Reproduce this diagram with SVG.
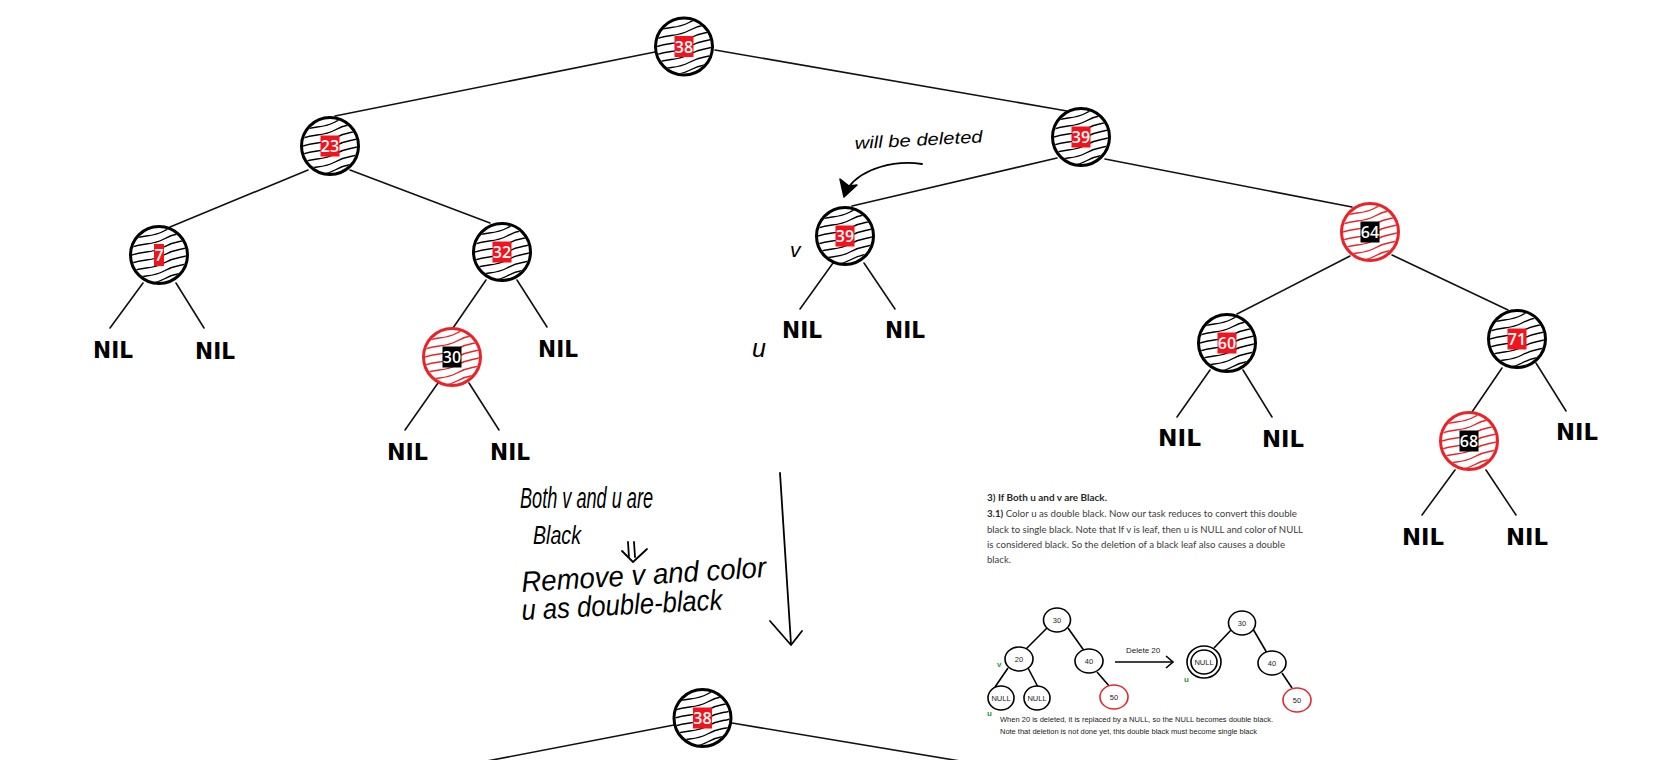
<svg xmlns="http://www.w3.org/2000/svg" xmlns:xlink="http://www.w3.org/1999/xlink" width="1661" height="760" viewBox="0 0 1661 760">
<style>
.nk{fill:none;stroke:#000;stroke-width:3}
.nr{fill:none;stroke:#ec2227;stroke-width:3}
.lr{fill:#f2131d}
.lb{fill:#000}
.lt{font-family:"Open Sans","DejaVu Sans",sans-serif;font-weight:600;font-size:16px;fill:#fff;text-anchor:middle}
.edge{stroke:#111;stroke-width:1.6;fill:none;stroke-linecap:round}
.nil{font-family:"DejaVu Sans",sans-serif;font-weight:bold;font-size:23px;fill:#000}
.hand{font-family:"Liberation Sans","DejaVu Sans",sans-serif;font-style:italic;fill:#000}
.pen{stroke:#000;stroke-width:1.8;fill:none;stroke-linecap:round;stroke-linejoin:round}
.doc{font-family:Lato,"Open Sans",sans-serif;font-size:9px;fill:#3d3d3d}
.docb{font-weight:bold;fill:#2a2a2a}
.mini{stroke:#000;stroke-width:1.6;fill:#fff}
.minir{stroke:#e8262b;stroke-width:1.6;fill:#fff}
.ml{font-family:"Liberation Sans",Arial,sans-serif;font-size:7.5px;fill:#222;text-anchor:middle}
.cap{font-family:"Liberation Sans",Arial,sans-serif;font-size:8px;fill:#222}
.grn{font-family:"Liberation Sans",Arial,sans-serif;font-size:8px;font-weight:bold;fill:#2e9a3a}
</style>
<defs>
<clipPath id="clipN"><circle r="27"/></clipPath>
<g id="hatch" clip-path="url(#clipN)" fill="none" stroke="currentColor" stroke-width="1.4" stroke-linecap="round">
<path d="M-30 -23 C-15 -29,-8 -25,5 -32 S20 -36,30 -40"/>
<path d="M-30 -15 C-15 -21,-8 -17,5 -24 S20 -28,30 -32"/>
<path d="M-30 -7 C-15 -13,-8 -9,5 -16 S20 -20,30 -24"/>
<path d="M-30 1 C-15 -5,-8 -1,5 -8 S20 -12,30 -16"/>
<path d="M-30 9 C-15 3,-8 7,5 0 S20 -4,30 -8"/>
<path d="M-30 17 C-15 11,-8 15,5 8 S20 4,30 0"/>
<path d="M-30 25 C-15 19,-8 23,5 16 S20 12,30 8"/>
<path d="M-30 33 C-15 27,-8 31,5 24 S20 20,30 16"/>
<path d="M-30 41 C-15 35,-8 39,5 32 S20 28,30 24"/>
</g>
</defs>
<rect width="1661" height="760" fill="#fff"/>

<g id="connectors">
<line class="edge" x1="655" y1="52" x2="335" y2="116"/>
<line class="edge" x1="715" y1="50" x2="1067" y2="111"/>
<line class="edge" x1="308" y1="170" x2="170" y2="227"/>
<line class="edge" x1="350" y1="170" x2="490" y2="223"/>
<line class="edge" x1="143" y1="283" x2="110" y2="328"/>
<line class="edge" x1="176" y1="283" x2="204" y2="328"/>
<line class="edge" x1="486" y1="280" x2="453" y2="328"/>
<line class="edge" x1="517" y1="280" x2="547" y2="327"/>
<line class="edge" x1="438" y1="383" x2="405" y2="430"/>
<line class="edge" x1="469" y1="383" x2="499" y2="430"/>
<line class="edge" x1="1057" y1="158" x2="852" y2="206"/>
<line class="edge" x1="1105" y1="159" x2="1352" y2="207"/>
<line class="edge" x1="833" y1="263" x2="800" y2="309"/>
<line class="edge" x1="864" y1="263" x2="895" y2="309"/>
<line class="edge" x1="1350" y1="256" x2="1237" y2="314"/>
<line class="edge" x1="1392" y1="255" x2="1508" y2="310"/>
<line class="edge" x1="1210" y1="370" x2="1177" y2="417"/>
<line class="edge" x1="1243" y1="370" x2="1272" y2="417"/>
<line class="edge" x1="1502" y1="368" x2="1472" y2="412"/>
<line class="edge" x1="1536" y1="363" x2="1566" y2="411"/>
<line class="edge" x1="1455" y1="470" x2="1422" y2="515"/>
<line class="edge" x1="1486" y1="470" x2="1516" y2="515"/>
<line class="edge" x1="674" y1="725" x2="487" y2="761"/>
<line class="edge" x1="732" y1="723" x2="960" y2="761"/>
</g>

<g id="node-38" transform="translate(684,46.5)"><use href="#hatch" color="#000"/><circle class="nk" r="28.5"/><rect class="lr" x="-9.5" y="-10.5" width="19" height="21"/><text class="lt" y="6">38</text></g>
<g id="node-23" transform="translate(330,146)"><use href="#hatch" color="#000"/><circle class="nk" r="28.5"/><rect class="lr" x="-9.5" y="-10.5" width="19" height="21"/><text class="lt" y="6">23</text></g>
<g id="node-7" transform="translate(159,255)"><use href="#hatch" color="#000"/><circle class="nk" r="28.5"/><rect class="lr" x="-5" y="-11" width="10" height="22"/><text class="lt" y="6">7</text></g>
<g id="node-32" transform="translate(502,252)"><use href="#hatch" color="#000"/><circle class="nk" r="28.5"/><rect class="lr" x="-9.5" y="-10.5" width="19" height="21"/><text class="lt" y="6">32</text></g>
<g id="node-30" transform="translate(452,357)"><use href="#hatch" color="#ec2227"/><circle class="nr" r="28.5"/><rect class="lb" x="-9.5" y="-10.5" width="19" height="21"/><text class="lt" y="6">30</text></g>
<g id="node-39a" transform="translate(1081,137)"><use href="#hatch" color="#000"/><circle class="nk" r="28.5"/><rect class="lr" x="-9.5" y="-10.5" width="19" height="21"/><text class="lt" y="6">39</text></g>
<g id="node-39v" transform="translate(845,236)"><use href="#hatch" color="#000"/><circle class="nk" r="28.5"/><rect class="lr" x="-9.5" y="-10.5" width="19" height="21"/><text class="lt" y="6">39</text></g>
<g id="node-64" transform="translate(1370,232)"><use href="#hatch" color="#ec2227"/><circle class="nr" r="28.5"/><rect class="lb" x="-9.5" y="-10.5" width="19" height="21"/><text class="lt" y="6">64</text></g>
<g id="node-60" transform="translate(1227,343)"><use href="#hatch" color="#000"/><circle class="nk" r="28.5"/><rect class="lr" x="-9.5" y="-10.5" width="19" height="21"/><text class="lt" y="6">60</text></g>
<g id="node-71" transform="translate(1517,339)"><use href="#hatch" color="#000"/><circle class="nk" r="28.5"/><rect class="lr" x="-9.5" y="-10.5" width="19" height="21"/><text class="lt" y="6">71</text></g>
<g id="node-68" transform="translate(1469,441)"><use href="#hatch" color="#ec2227"/><circle class="nr" r="28.5"/><rect class="lb" x="-9.5" y="-10.5" width="19" height="21"/><text class="lt" y="6">68</text></g>
<g id="node-38b" transform="translate(702.5,718)"><use href="#hatch" color="#000"/><circle class="nk" r="28.5"/><rect class="lr" x="-9.5" y="-10.5" width="19" height="21"/><text class="lt" y="6">38</text></g>

<g id="nil-leaves">
<text class="nil" x="93" y="358" textLength="40" lengthAdjust="spacingAndGlyphs">NIL</text>
<text class="nil" x="195" y="359" textLength="40" lengthAdjust="spacingAndGlyphs">NIL</text>
<text class="nil" x="538" y="357" textLength="40" lengthAdjust="spacingAndGlyphs">NIL</text>
<text class="nil" x="387" y="460" textLength="41" lengthAdjust="spacingAndGlyphs">NIL</text>
<text class="nil" x="490" y="460" textLength="40" lengthAdjust="spacingAndGlyphs">NIL</text>
<text class="nil" x="782" y="338" textLength="40" lengthAdjust="spacingAndGlyphs">NIL</text>
<text class="nil" x="885" y="338" textLength="40" lengthAdjust="spacingAndGlyphs">NIL</text>
<text class="nil" x="1158" y="446" textLength="43" lengthAdjust="spacingAndGlyphs">NIL</text>
<text class="nil" x="1262" y="447" textLength="42" lengthAdjust="spacingAndGlyphs">NIL</text>
<text class="nil" x="1556" y="440" textLength="42" lengthAdjust="spacingAndGlyphs">NIL</text>
<text class="nil" x="1402" y="545" textLength="42" lengthAdjust="spacingAndGlyphs">NIL</text>
<text class="nil" x="1506" y="545" textLength="42" lengthAdjust="spacingAndGlyphs">NIL</text>
</g>

<g id="annotations">
<text class="hand" x="855" y="149" font-size="17" textLength="128" lengthAdjust="spacingAndGlyphs" transform="rotate(-3 855 149)">will be deleted</text>
<path class="pen" d="M922 164 C895 160,862 168,848 188"/>
<path d="M844 197 L840 179 L849 186 L857 185 Z" fill="#000" stroke="#000" stroke-width="1.5" stroke-linejoin="round"/>
<text class="hand" x="790" y="257" font-size="21">v</text>
<text class="hand" x="752" y="357" font-size="25">u</text>

<text class="hand" x="520" y="508" font-size="30" textLength="133" lengthAdjust="spacingAndGlyphs">Both v and u are</text>
<text class="hand" x="533" y="544" font-size="26" textLength="48" lengthAdjust="spacingAndGlyphs">Black</text>
<path class="pen" d="M628 542 L629 558 M634 542 L635 557 M622 551 L633 562 L647 549"/>
<text class="hand" x="522" y="592" font-size="29" textLength="245" lengthAdjust="spacingAndGlyphs" transform="rotate(-3.5 522 592)">Remove v and color</text>
<text class="hand" x="522" y="620" font-size="29" textLength="201" lengthAdjust="spacingAndGlyphs" transform="rotate(-3 522 620)">u as  double-black</text>
<path class="pen" d="M780 473 L791 644"/>
<path class="pen" d="M770 621 L791 645 L802 631"/>
</g>

<g id="doc-excerpt">
<text class="doc docb" x="987" y="501" textLength="120" lengthAdjust="spacingAndGlyphs">3) If Both u and v are Black.</text>
<text class="doc" x="987" y="517" textLength="310" lengthAdjust="spacingAndGlyphs"><tspan class="docb">3.1)</tspan> Color u as double black.  Now our task reduces to convert this double</text>
<text class="doc" x="987" y="533" textLength="316" lengthAdjust="spacingAndGlyphs">black to single black. Note that If v is leaf, then u is NULL and color of NULL</text>
<text class="doc" x="987" y="548" textLength="298" lengthAdjust="spacingAndGlyphs">is considered black. So the deletion of a black leaf also causes a double</text>
<text class="doc" x="987" y="563" textLength="24" lengthAdjust="spacingAndGlyphs">black.</text>

<g id="mini-edges" stroke="#000" stroke-width="1.6">
<line x1="1047" y1="628" x2="1025" y2="650"/>
<line x1="1068" y1="628" x2="1085" y2="652"/>
<line x1="1008" y1="668" x2="995" y2="687"/>
<line x1="1028" y1="668" x2="1038" y2="687"/>
<line x1="1097" y1="672" x2="1110" y2="687"/>
<line x1="1232" y1="629" x2="1214" y2="648"/>
<line x1="1253" y1="629" x2="1267" y2="653"/>
<line x1="1282" y1="673" x2="1292" y2="688"/>
<line x1="1115" y1="662" x2="1173" y2="662"/>
<path d="M1166 656 L1173 662 L1166 668" fill="none"/>
</g>
<g id="mini-30a"><ellipse class="mini" cx="1057" cy="620" rx="13.5" ry="12"/><text class="ml" x="1057" y="623">30</text></g>
<g id="mini-20"><ellipse class="mini" cx="1019" cy="659" rx="14" ry="12"/><text class="ml" x="1019" y="662">20</text></g>
<g id="mini-40a"><ellipse class="mini" cx="1089" cy="661" rx="14" ry="12"/><text class="ml" x="1089" y="664">40</text></g>
<g id="mini-null1"><ellipse class="mini" cx="1001" cy="698" rx="13" ry="12"/><text class="ml" x="1001" y="701" font-size="6.5">NULL</text></g>
<g id="mini-null2"><ellipse class="mini" cx="1037" cy="698" rx="13" ry="12"/><text class="ml" x="1037" y="701" font-size="6.5">NULL</text></g>
<g id="mini-50a"><ellipse class="minir" cx="1114" cy="697" rx="14" ry="12"/><text class="ml" x="1114" y="700">50</text></g>
<text class="grn" x="997" y="667">v</text>
<text class="grn" x="987" y="716">u</text>
<text class="cap" x="1126" y="653">Delete 20</text>
<g id="mini-30b"><ellipse class="mini" cx="1242" cy="623" rx="13.5" ry="12"/><text class="ml" x="1242" y="626">30</text></g>
<g id="mini-nullDB"><ellipse class="mini" cx="1204" cy="662" rx="17" ry="16"/><ellipse class="mini" cx="1204" cy="662" rx="13" ry="12"/><text class="ml" x="1204" y="665" font-size="6.5">NULL</text></g>
<g id="mini-40b"><ellipse class="mini" cx="1272" cy="663" rx="14" ry="12"/><text class="ml" x="1272" y="666">40</text></g>
<g id="mini-50b"><ellipse class="minir" cx="1297" cy="700" rx="14" ry="12"/><text class="ml" x="1297" y="703">50</text></g>
<text class="grn" x="1184" y="682">u</text>
<text class="cap" x="1000" y="722" textLength="273" lengthAdjust="spacingAndGlyphs">When 20 is deleted, it is replaced by a NULL, so the NULL becomes double black.</text>
<text class="cap" x="1000" y="734" textLength="257" lengthAdjust="spacingAndGlyphs">Note that deletion is not done yet, this double black must become single black</text>
</g>
</svg>
